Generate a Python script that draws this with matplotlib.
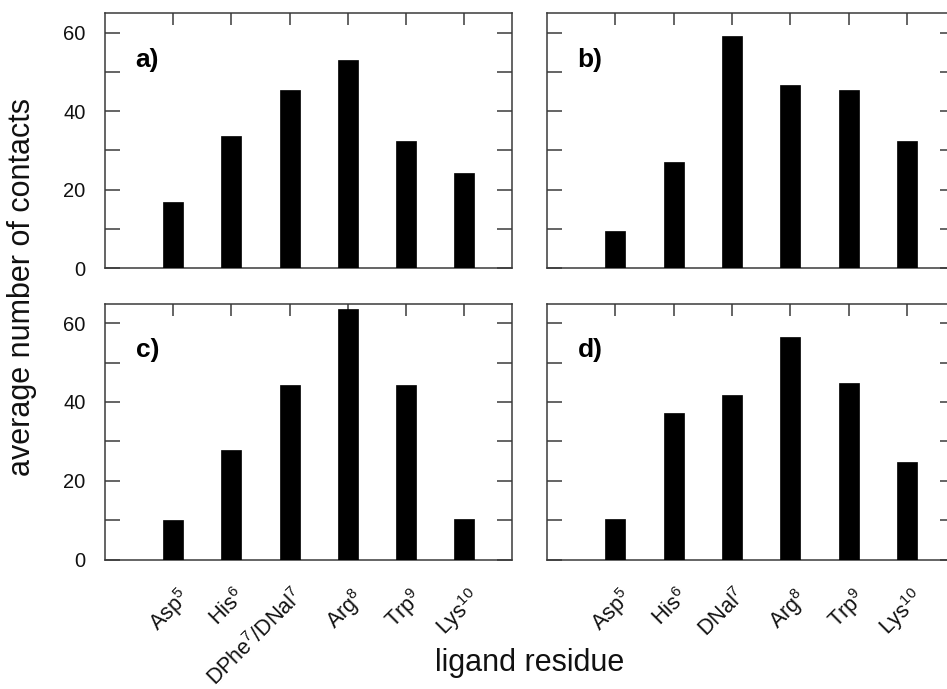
import matplotlib
matplotlib.use("Agg")
import matplotlib.pyplot as plt
import matplotlib.transforms as mtransforms
import numpy as np

plt.rcParams['font.family'] = ['Liberation Sans', 'DejaVu Sans']
plt.rcParams['mathtext.fontset'] = 'custom'
plt.rcParams['mathtext.rm'] = 'Liberation Sans'
plt.rcParams['mathtext.it'] = 'Liberation Sans:italic'
plt.rcParams['mathtext.default'] = 'regular'

labels_left = [r'Asp$^{5}$', r'His$^{6}$', r'DPhe$^{7}$/DNal$^{7}$', r'Arg$^{8}$', r'Trp$^{9}$', r'Lys$^{10}$']
labels_right = [r'Asp$^{5}$', r'His$^{6}$', r'DNal$^{7}$', r'Arg$^{8}$', r'Trp$^{9}$', r'Lys$^{10}$']

vals_a = [16.7, 33.7, 45.3, 52.9, 32.3, 24.3]
vals_b = [9.5, 26.9, 59.1, 46.6, 45.3, 32.3]
vals_c = [10.0, 27.8, 44.4, 63.6, 44.4, 10.4]
vals_d = [10.4, 37.3, 41.8, 56.5, 44.9, 24.8]

panel_tags = ['a)', 'b)', 'c)', 'd)']

W, H = 947, 689
fig = plt.figure(figsize=(W / 100, H / 100), dpi=100)

def rect(l, t, r, b):
    return [l / W, 1 - b / H, (r - l) / W, (b - t) / H]

rects = [rect(105, 13, 512, 268), rect(547, 13, 955, 268),
         rect(105, 303.5, 512, 559.5), rect(547, 303.5, 955, 559.5)]
values = [vals_a, vals_b, vals_c, vals_d]
spine_col = '#3a3a3a'
x = np.arange(1, 7)

for i, (rc, v, tag) in enumerate(zip(rects, values, panel_tags)):
    ax = fig.add_axes(rc)
    ax.bar(x, v, width=0.345, color='black', edgecolor='black', linewidth=0.5, zorder=3)
    ax.set_xlim(-0.17, 6.82)
    ax.set_ylim(0, 65)
    for s in ax.spines.values():
        s.set_color(spine_col)
        s.set_linewidth(1.1)
    ax.set_yticks([0, 20, 40, 60])
    ax.set_yticks([10, 30, 50], minor=True)
    ax.tick_params(axis='y', which='both', direction='in', left=True, right=True,
                   length=10.5, width=1.1, color=spine_col, labelsize=14.5,
                   pad=14, labelcolor='#111111')
    if i % 2 == 1:
        ax.tick_params(axis='y', which='both', labelleft=False)
    ax.set_xticks(x)
    ax.tick_params(axis='x', which='both', direction='in', bottom=False, top=True,
                   length=8.5, width=1.1, color=spine_col)
    if i < 2:
        ax.tick_params(axis='x', labelbottom=False)
    else:
        labs = labels_left if i == 2 else labels_right
        ax.set_xticklabels(labs, rotation=45, ha='right', va='top',
                           rotation_mode='anchor', fontsize=15.5, color='#111111')
        ax.tick_params(axis='x', pad=18)
        off = mtransforms.ScaledTranslation(3 / 100, 0, fig.dpi_scale_trans)
        for lab in ax.get_xticklabels():
            lab.set_transform(lab.get_transform() + off)
    ax.text(0.075, 0.79, tag, transform=ax.transAxes, fontsize=19,
            fontweight='bold', ha='left', va='baseline', color='black')

fig.text(22 / W, 1 - 287 / H, 'average number of contacts', rotation=90,
         ha='center', va='center', fontsize=22, color='#111111')
fig.text(530 / W, 1 - 663 / H, 'ligand residue', ha='center', va='center',
         fontsize=22, color='#111111')

fig.savefig('out.png', dpi=100)
